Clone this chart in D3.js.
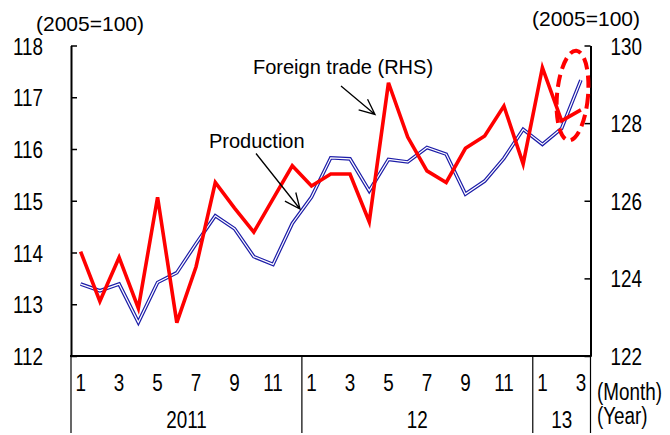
<!DOCTYPE html>
<meta charset="utf-8">
<style>
  body { margin: 0; background: #fff; }
  text { font-family: "Liberation Sans", Arial, sans-serif; fill: #000; }
</style>
<script src="https://cdn.jsdelivr.net/npm/d3@7"></script>
<body>
<script>

// Jan 2011 .. Mar 2013
var months = [1,2,3,4,5,6,7,8,9,10,11,12, 1,2,3,4,5,6,7,8,9,10,11,12, 1,2,3];
var years = [{label: "2011", from: 0, to: 12}, {label: "12", from: 12, to: 24}, {label: "13", from: 24, to: 27}];

// production index (LHS)
var production = [113.39, 113.26, 113.39, 112.65, 113.42, 113.61, 114.17, 114.71, 114.46, 113.92, 113.77, 114.56,
                  115.07, 115.83, 115.81, 115.19, 115.80, 115.75, 116.03, 115.90, 115.13, 115.38, 115.82, 116.38,
                  116.09, 116.40, 117.33];
// foreign trade index (RHS)
var foreignTrade = [124.69, 123.41, 124.54, 123.23, 126.09, 122.86, 124.30, 126.47, 125.81, 125.19, 126.05, 126.90,
                    126.38, 126.69, 126.69, 125.46, 129.04, 127.64, 126.77, 126.47, 127.35, 127.67, 128.44, 126.95,
                    129.43, 128.06, 128.34];

var leftTicks = [112, 113, 114, 115, 116, 117, 118];
var rightTicks = [122, 124, 126, 128, 130];

var width = 670, height = 435;
var plotLeft = 71, plotRight = 590.5, plotTop = 45.5, plotBottom = 356;

var svg = d3.select("body").append("svg")
  .attr("width", width)
  .attr("height", height);

var x = d3.scaleBand()
  .domain(d3.range(months.length))
  .range([plotLeft, plotRight])
  .padding(0);

var yL = d3.scaleLinear().domain([112, 118]).range([plotBottom, plotTop]);
var yR = d3.scaleLinear().domain([122, 130]).range([plotBottom, plotTop]);

var narrow = 0.82;

// left axis
var gL = svg.append("g")
  .attr("transform", "translate(" + plotLeft + ",0)")
  .call(d3.axisLeft(yL).tickValues(leftTicks).tickSizeInner(-6).tickSizeOuter(0).tickFormat(d3.format("d")));
// right axis
var gR = svg.append("g")
  .attr("transform", "translate(" + plotRight + ",0)")
  .call(d3.axisRight(yR).tickValues(rightTicks).tickSizeInner(-6).tickSizeOuter(0).tickFormat(d3.format("d")));

[gL, gR].forEach(function(g) {
  g.select(".domain").attr("stroke", "#000").attr("stroke-width", 2);
  g.selectAll(".tick line").attr("stroke", "#000").attr("stroke-width", 1.5);
  g.selectAll(".tick text")
    .attr("font-size", 23)
    .attr("font-family", "Liberation Sans, Arial, sans-serif")
    .attr("fill", "#000")
    .attr("dy", 0)
    .attr("y", 8.5);
});
gL.selectAll(".tick text").attr("x", -28 / narrow).attr("transform", "scale(" + narrow + ",1)");
gR.selectAll(".tick text").attr("x", 20 / narrow).attr("transform", "scale(" + narrow + ",1)");

// x axis line
svg.append("line")
  .attr("x1", plotLeft - 1).attr("x2", plotRight + 1)
  .attr("y1", plotBottom).attr("y2", plotBottom)
  .attr("stroke", "#000").attr("stroke-width", 2);

// year separators
var seps = [0].concat(years.map(function(d) { return d.to; }));
var sepX = function(d) { return d === months.length ? plotRight : x(d); };
svg.selectAll(".sep").data(seps).enter().append("line")
  .attr("x1", sepX).attr("x2", sepX)
  .attr("y1", plotBottom).attr("y2", 433)
  .attr("stroke", "#000").attr("stroke-width", 1.2);

function narrowText(px, py, str, anchor) {
  svg.append("text")
    .attr("transform", "translate(" + px + "," + py + ") scale(" + narrow + ",1)")
    .attr("text-anchor", anchor || "middle")
    .attr("font-size", 23)
    .text(str);
}

// month labels (odd months)
months.forEach(function(m, i) {
  if (m % 2 === 1) narrowText(x(i) + x.bandwidth() / 2, 390.5, m);
});
// year labels
years.forEach(function(y) {
  narrowText((sepX(y.from) + sepX(y.to)) / 2, 428, y.label);
});
narrowText(597, 400, "(Month)", "start");
narrowText(597, 424, "(Year)", "start");

// unit labels
svg.append("text").attr("x", 36).attr("y", 31).attr("font-size", 21).text("(2005=100)");
svg.append("text").attr("x", 532).attr("y", 26).attr("font-size", 21).text("(2005=100)");

var cx = function(d, i) { return x(i) + x.bandwidth() / 2; };

// production: double blue line
var lineL = d3.line().x(cx).y(function(d) { return yL(d); });
svg.append("path").datum(production)
  .attr("d", lineL).attr("fill", "none")
  .attr("stroke", "#1c1ca8").attr("stroke-width", 3.6).attr("stroke-linejoin", "miter");
svg.append("path").datum(production)
  .attr("d", lineL).attr("fill", "none")
  .attr("stroke", "#fff").attr("stroke-width", 1.2).attr("stroke-linejoin", "miter");

// foreign trade: red line
var lineR = d3.line().x(cx).y(function(d) { return yR(d); });
svg.append("path").datum(foreignTrade)
  .attr("d", lineR).attr("fill", "none")
  .attr("stroke", "#ff0000").attr("stroke-width", 3.6).attr("stroke-linejoin", "miter");

// dashed ellipse around latest months
svg.append("ellipse")
  .attr("cx", 572.5).attr("cy", 95.5).attr("rx", 15.5).attr("ry", 45)
  .attr("transform", "rotate(5,572.5,95.5)")
  .attr("fill", "none").attr("stroke", "#ff0000")
  .attr("stroke-width", 4).attr("stroke-dasharray", "12,6");

// labels with arrows
svg.append("text").attr("x", 253).attr("y", 74).attr("font-size", 20).text("Foreign trade (RHS)");
svg.append("text").attr("x", 209).attr("y", 147.5).attr("font-size", 20).text("Production");

function arrow(x1, y1, x2, y2) {
  var ang = Math.atan2(y2 - y1, x2 - x1), len = 17, spread = 0.42;
  var p = d3.path();
  p.moveTo(x1, y1); p.lineTo(x2, y2);
  p.moveTo(x2 - len * Math.cos(ang - spread), y2 - len * Math.sin(ang - spread));
  p.lineTo(x2, y2);
  p.lineTo(x2 - len * Math.cos(ang + spread), y2 - len * Math.sin(ang + spread));
  svg.append("path").attr("d", p.toString())
    .attr("fill", "none").attr("stroke", "#000").attr("stroke-width", 1.3);
}
arrow(341, 86, 375, 114.5);
arrow(256, 153.5, 300, 209);

</script>
</body>
